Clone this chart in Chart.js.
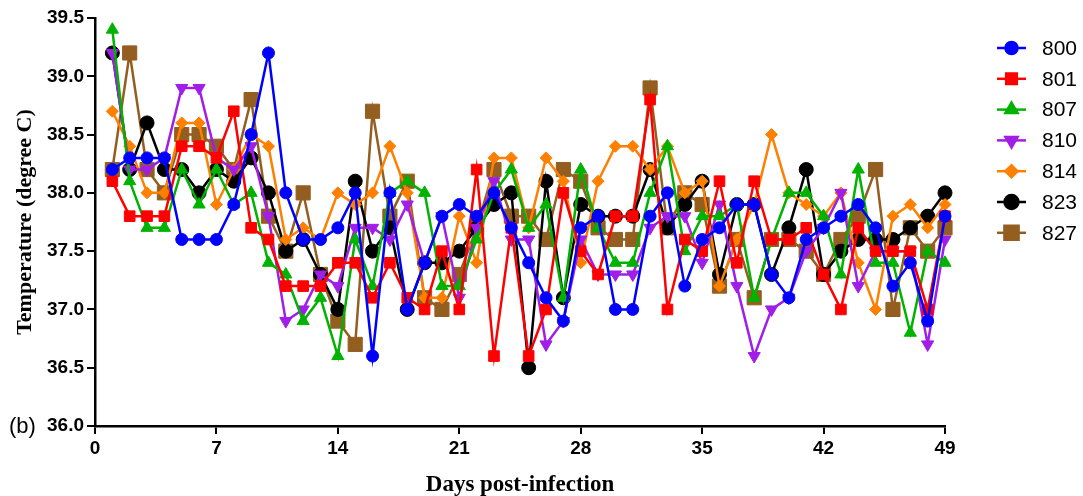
<!DOCTYPE html>
<html>
<head>
<meta charset="utf-8">
<script src="https://cdn.jsdelivr.net/npm/chart.js@4/dist/chart.umd.min.js"></script>
<style>
    html, body { margin: 0; padding: 0; background: #fff; }
    #wrap { width: 1083px; height: 496px; position: relative; }
</style>
</head>
<body>
<div id="wrap"><canvas id="tempChart"></canvas></div>
<script>
// days post-infection
const days = [1, 2, 3, 4, 5, 6, 7, 8, 9, 10, 11, 12, 13, 14, 15, 16, 17, 18, 19, 20, 21, 22, 23, 24, 25,
    26, 27, 28, 29, 30, 31, 32, 33, 34, 35, 36, 37, 38, 39, 40, 41, 42, 43, 44, 45, 46, 47, 48, 49];

const xTicks = [0, 7, 14, 21, 28, 35, 42, 49];
const yTicks = [36.0, 36.5, 37.0, 37.5, 38.0, 38.5, 39.0, 39.5];

const animalIds = ["800", "801", "807", "810", "814", "823", "827"];

const temp800 = [38.2, 38.3, 38.3, 38.3, 37.6, 37.6, 37.6, 37.9, 38.5,
    39.2, 38.0, 37.6, 37.6, 37.7, 38.0, 36.6, 38.0,
    37.0, 37.4, 37.8, 37.9, 37.8, 38.0, 37.7, 37.4,
    37.1, 36.9, 37.7, 37.8, 37.0, 37.0, 37.8, 38.0,
    37.2, 37.6, 37.7, 37.9, 37.9, 37.3, 37.1, 37.6,
    37.7, 37.8, 37.9, 37.7, 37.2, 37.4, 36.9, 37.8];
const temp801 = [38.1, 37.8, 37.8, 37.8, 38.4, 38.4, 38.3, 38.7, 37.7,
    37.6, 37.2, 37.2, 37.2, 37.4, 37.4, 37.1, 37.4,
    37.1, 37.0, 37.5, 37.0, 38.2, 36.6, 37.7, 36.6,
    37.0, 38.0, 37.5, 37.3, 37.8, 37.8, 38.8, 37.0,
    37.6, 37.5, 38.1, 37.4, 38.1, 37.6, 37.6, 37.7,
    37.3, 37.0, 37.7, 37.5, 37.5, 37.5, 37.0, 37.8];
const temp807 = [39.4, 38.1, 37.7, 37.7, 38.2, 37.9, 38.2, 37.9, 38.0,
    37.4, 37.3, 36.9, 37.1, 36.6, 37.6, 37.2, 38.0,
    38.1, 38.0, 37.2, 37.2, 37.6, 38.0, 38.2, 37.7,
    37.9, 37.1, 38.2, 37.7, 37.4, 37.4, 38.0, 38.4,
    37.5, 37.8, 37.8, 37.9, 37.1, 37.6, 38.0, 38.0,
    37.8, 37.3, 38.2, 37.4, 37.4, 36.8, 37.5, 37.4];
const temp810 = [39.2, 38.2, 38.2, 38.3, 38.9, 38.9, 38.3, 38.2, 38.4,
    37.8, 36.9, 37.0, 37.3, 37.2, 37.7, 37.7, 37.6,
    37.9, 37.4, 37.8, 37.1, 37.7, 38.1, 37.6, 37.6,
    36.7, 36.9, 37.6, 37.3, 37.3, 37.3, 37.7, 37.8,
    37.8, 37.4, 37.9, 37.2, 36.6, 37.0, 37.1, 37.5,
    37.7, 38.0, 37.2, 37.5, 37.5, 37.5, 36.7, 37.6];
const temp814 = [38.7, 38.4, 38.0, 38.0, 38.6, 38.6, 37.9, 38.2, 38.5,
    38.4, 37.6, 37.7, 37.6, 38.0, 37.9, 38.0, 38.4,
    38.0, 37.1, 37.1, 37.8, 37.4, 38.3, 38.3, 37.7,
    38.3, 38.1, 37.4, 38.1, 38.4, 38.4, 38.2, 38.4,
    38.0, 38.1, 37.2, 37.6, 37.9, 38.5, 38.0, 37.9,
    37.8, 38.0, 37.4, 37.0, 37.8, 37.9, 37.7, 37.9];
const temp823 = [39.2, 38.2, 38.6, 38.2, 38.2, 38.0, 38.2, 38.1, 38.3,
    38.0, 37.5, 37.6, 37.3, 37.0, 38.1, 37.5, 37.7,
    37.0, 37.4, 37.4, 37.5, 37.7, 37.9, 38.0, 36.5,
    38.1, 37.1, 37.9, 37.8, 37.8, 37.8, 38.2, 37.7,
    37.9, 38.1, 37.3, 37.9, 37.9, 37.3, 37.7, 38.2,
    37.3, 37.5, 37.6, 37.6, 37.6, 37.7, 37.8, 38.0];
const temp827 = [38.2, 39.2, 38.2, 38.0, 38.5, 38.5, 38.4, 38.2, 38.8,
    37.8, 37.5, 38.0, 37.3, 36.9, 36.7, 38.7, 37.8,
    38.1, 37.1, 37.0, 37.3, 37.7, 38.2, 37.8, 37.8,
    37.6, 38.2, 38.1, 37.7, 37.6, 37.6, 38.9, 37.7,
    38.0, 37.9, 37.2, 37.6, 37.1, 37.6, 37.6, 37.5,
    37.3, 37.6, 37.8, 38.2, 37.0, 37.7, 37.5, 37.7];

const seriesValues = [temp800, temp801, temp807, temp810, temp814, temp823, temp827];

// marker look per animal
const looks = [
    { color: "#0000ff", style: "circle", r: 6, rot: 0 },
    { color: "#ff0000", style: "rect", r: 7.5, rot: 0 },
    { color: "#00b300", style: "triangle", r: 7, rot: 0 },
    { color: "#a01ee8", style: "triangle", r: 7, rot: 180 },
    { color: "#ff8000", style: "rectRot", r: 6, rot: 0 },
    { color: "#000000", style: "circle", r: 7, rot: 0 },
    { color: "#935e20", style: "rect", r: 10, rot: 0 }
];

const datasets = animalIds.map((id, i) => ({
    label: id,
    data: days.map((d, k) => ({ x: d, y: seriesValues[i][k] })),
    borderColor: looks[i].color,
    backgroundColor: looks[i].color,
    borderWidth: 2.5,
    pointStyle: looks[i].style,
    pointRadius: looks[i].r,
    pointRotation: looks[i].rot,
    pointBorderWidth: 1,
    pointBorderColor: looks[i].color,
    pointBackgroundColor: looks[i].color,
    tension: 0,
    clip: false
}));

// legend on the right: short line with the marker in the middle
const sideLegend = {
    id: "sideLegend",
    afterDraw(chart) {
        const ctx = chart.ctx;
        ctx.save();
        looks.forEach((lk, i) => {
            const y = 48 + i * 30.8;
            ctx.strokeStyle = lk.color;
            ctx.lineWidth = 2.5;
            ctx.beginPath();
            ctx.moveTo(997, y);
            ctx.lineTo(1026, y);
            ctx.stroke();
            ctx.fillStyle = lk.color;
            Chart.helpers.drawPoint(ctx, {
                pointStyle: lk.style,
                radius: lk.r,
                rotation: lk.rot,
                borderWidth: 1
            }, 1011.5, y);
            ctx.fillStyle = "#000";
            ctx.font = "21px 'Liberation Sans', Arial, sans-serif";
            ctx.textBaseline = "middle";
            ctx.textAlign = "left";
            ctx.fillText(animalIds[i], 1042, y + 1);
        });
        // panel letter
        ctx.fillStyle = "#000";
        ctx.font = "22px 'Liberation Sans', Arial, sans-serif";
        ctx.textBaseline = "alphabetic";
        ctx.fillText("(b)", 9, 433);
        ctx.restore();
    }
};

const tickFont = { family: "'Liberation Sans', Arial, sans-serif", size: 19, weight: "bold" };

new Chart(document.getElementById("tempChart"), {
    type: "line",
    data: { datasets: datasets },
    options: {
        responsive: true,
        maintainAspectRatio: false,
        animation: false,
        layout: { padding: { top: 18, right: 138, left: 0, bottom: 0 } },
        plugins: { legend: { display: false }, tooltip: { enabled: false } },
        scales: {
            x: {
                type: "linear",
                min: 0,
                max: 49,
                afterFit: s => { s.height = 70; },
                afterBuildTicks: s => { s.ticks = xTicks.map(v => ({ value: v })); },
                grid: { drawOnChartArea: false, drawTicks: true, tickLength: 8, color: "#000", lineWidth: 2 },
                border: { display: true, color: "#000", width: 2.5 },
                ticks: { color: "#000", font: tickFont, padding: 3, maxRotation: 0 },
                title: {
                    display: true,
                    text: "Days post-infection",
                    color: "#000",
                    font: { family: "'Liberation Serif', 'Times New Roman', serif", size: 23, weight: "bold" },
                    padding: { top: 0, bottom: -3 }
                }
            },
            y: {
                min: 36,
                max: 39.5,
                afterFit: s => { s.width = 95; },
                afterBuildTicks: s => { s.ticks = yTicks.map(v => ({ value: v })); },
                grid: { drawOnChartArea: false, drawTicks: true, tickLength: 8, color: "#000", lineWidth: 2 },
                border: { display: true, color: "#000", width: 2.5 },
                ticks: { color: "#000", font: tickFont, padding: 3, callback: v => v.toFixed(1) },
                title: {
                    display: true,
                    text: "Temperature (degree C)",
                    color: "#000",
                    font: { family: "'Liberation Serif', 'Times New Roman', serif", size: 22, weight: "bold" },
                    padding: { top: 12, bottom: 0 }
                }
            }
        }
    },
    plugins: [sideLegend]
});
</script>
</body>
</html>
